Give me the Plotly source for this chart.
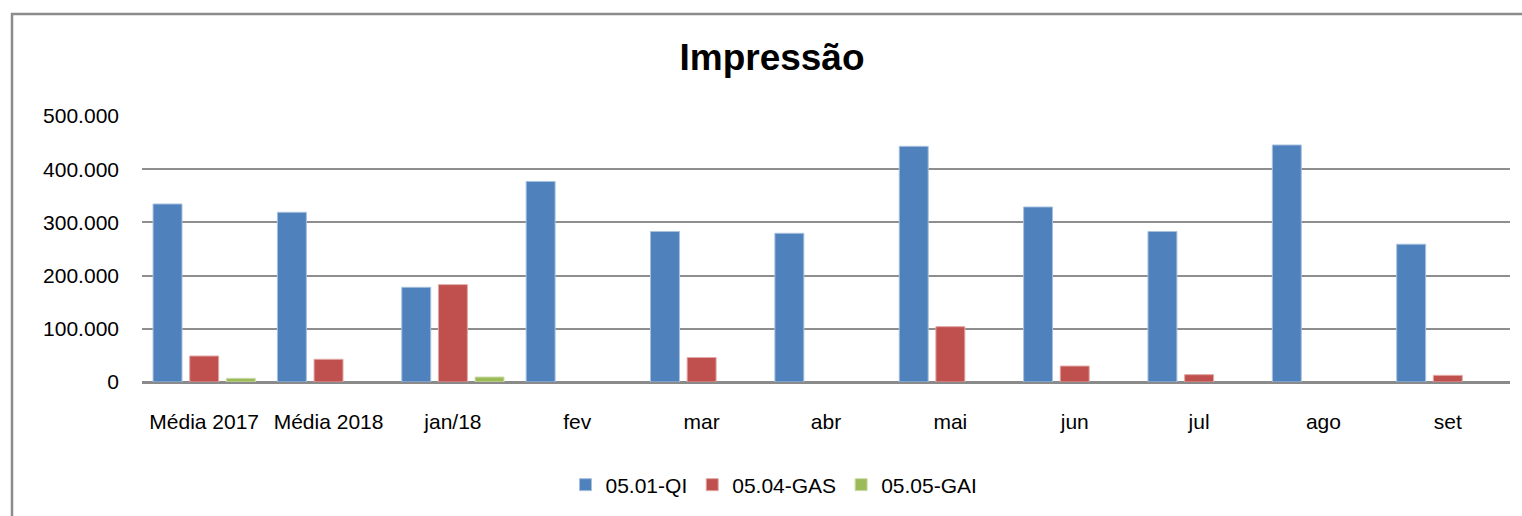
import plotly.graph_objects as go

categories = ["Média 2017", "Média 2018", "jan/18", "fev", "mar", "abr", "mai", "jun", "jul", "ago", "set"]
qi = [334600, 319000, 178000, 377000, 283000, 279500, 443000, 329000, 283000, 445500, 259000]
gas = [48900, 42700, 183000, None, 46000, None, 104000, 30000, 13800, None, 12500]
gai = [7000, None, 9400, None, None, None, None, None, None, None, None]
series_names = ["05.01-QI", "05.04-GAS", "05.05-GAI"]
y_ticks = [0, 100000, 200000, 300000, 400000, 500000]

colors = ["#4F81BD", "#C0504D", "#9BBB59"]
edges = ["#A7C0DE", "#E0A8A6", "#CDDDAC"]

W, H = 1522, 516
L, R, T, B = 142, 1510, 116, 382

fig = go.Figure()
for name, vals, c, e in zip(series_names, [qi, gas, gai], colors, edges):
    fig.add_trace(go.Bar(x=categories, y=vals, name=name,
                         marker=dict(color=c, line=dict(color=e, width=1))))

font_family = "Liberation Sans, Arial, sans-serif"
fig.update_layout(
    width=W, height=H,
    margin=dict(l=L, r=W - R, t=T, b=H - B, pad=0),
    paper_bgcolor="white", plot_bgcolor="white",
    separators=",.",
    barmode="group", bargap=0.116, bargroupgap=0.21,
    font=dict(family=font_family, size=21, color="black"),
    title=dict(text="<b>Impressão</b>", x=772 / W, xref="container", xanchor="center",
               y=1 - 57 / H, yref="container", yanchor="middle",
               font=dict(family=font_family, size=37, color="black")),
    showlegend=True,
    legend=dict(orientation="h", xref="container", x=774 / W, xanchor="center",
                yref="container", y=1 - 485 / H, yanchor="middle",
                font=dict(size=21), traceorder="normal"),
    xaxis=dict(showgrid=False, showline=False, ticks="", ticklabelstandoff=25,
               tickfont=dict(size=21)),
    yaxis=dict(range=[0, 500000], tickvals=y_ticks, tickformat=",d",
               showgrid=True, gridcolor="#8E8E8E", gridwidth=2,
               zeroline=True, zerolinecolor="#8A8A8A", zerolinewidth=2.5,
               showline=False, ticks="", ticklabelstandoff=22,
               tickfont=dict(size=21)),
)

# outer chart border (top and left edges visible)
pw, ph = R - L, B - T
def px(x):
    return (x - L) / pw
def py(y):
    return (B - y) / ph
fig.add_shape(type="path", xref="paper", yref="paper",
              path=f"M {px(12)} {py(530)} L {px(12)} {py(14)} L {px(1535)} {py(14)}",
              line=dict(color="#8C8C8C", width=2.5))

fig.write_html("out.html", config={"displayModeBar": False},
               post_script="document.body.style.margin='0';document.body.style.overflow='hidden';")
